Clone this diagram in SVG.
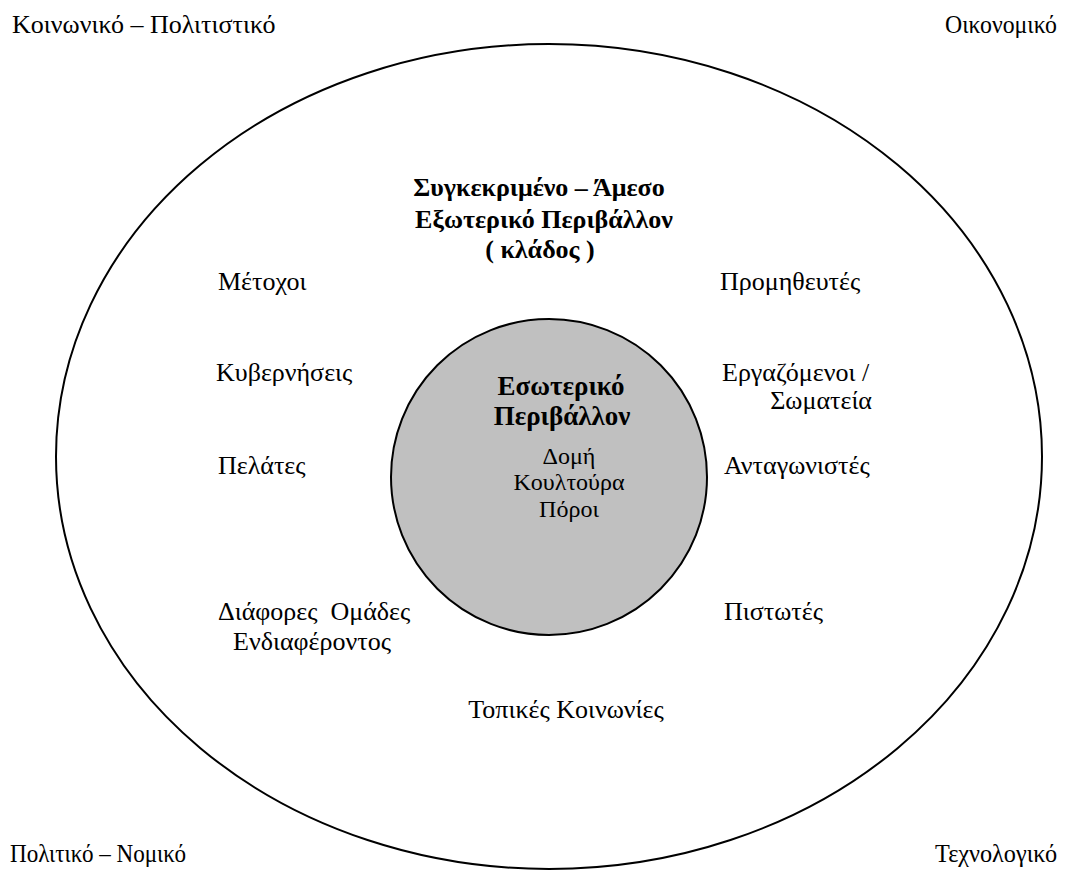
<svg xmlns="http://www.w3.org/2000/svg" width="1066" height="871" viewBox="0 0 1066 871">
<style>
text{font-family:"Liberation Serif","Times New Roman",serif;fill:#000;font-size:26px;white-space:pre}
.b{font-weight:bold}
.ib{font-size:27px}
.s{font-size:24px}
.c{text-anchor:middle}
.r{text-anchor:end}
.ring{fill:none;stroke:#000;stroke-width:2}
</style>
<rect width="1066" height="871" fill="#fff"/>
<g id="corners">
<text x="12" y="33">Κοινωνικό – Πολιτιστικό</text>
<text class="r" x="1057" y="33" textLength="112" lengthAdjust="spacingAndGlyphs">Οικονομικό</text>
<text x="10" y="862" textLength="176" lengthAdjust="spacingAndGlyphs">Πολιτικό – Νομικό</text>
<text class="r" x="1057" y="862" textLength="122" lengthAdjust="spacingAndGlyphs">Τεχνολογικό</text>
</g>
<g id="outer-environment">
<ellipse class="ring" cx="549" cy="456.5" rx="493" ry="412.5"/>
<text class="b c" x="539" y="196">Συγκεκριμένο – Άμεσο</text>
<text class="b c" x="544" y="228">Εξωτερικό Περιβάλλον</text>
<text class="b c" x="540" y="258">( κλάδος )</text>
</g>
<g id="inner-environment">
<circle cx="549" cy="477" r="158" fill="#c0c0c0" stroke="#000" stroke-width="2"/>
<text class="b ib c" x="561" y="395">Εσωτερικό</text>
<text class="b ib c" x="562" y="425">Περιβάλλον</text>
<text class="s c" x="569" y="464">Δομή</text>
<text class="s c" x="569" y="490">Κουλτούρα</text>
<text class="s c" x="569" y="517">Πόροι</text>
</g>
<g id="stakeholders">
<text x="218" y="290">Μέτοχοι</text>
<text x="216" y="381">Κυβερνήσεις</text>
<text x="218" y="474">Πελάτες</text>
<text x="218" y="620">Διάφορες  Ομάδες</text>
<text class="c" x="312" y="650">Ενδιαφέροντος</text>
<text class="c" x="566" y="718">Τοπικές Κοινωνίες</text>
<text x="720" y="290">Προμηθευτές</text>
<text x="722" y="381">Εργαζόμενοι /</text>
<text class="r" x="872" y="409">Σωματεία</text>
<text x="724" y="474">Ανταγωνιστές</text>
<text x="724" y="620">Πιστωτές</text>
</g>
<g id="connectors"/>
</svg>
